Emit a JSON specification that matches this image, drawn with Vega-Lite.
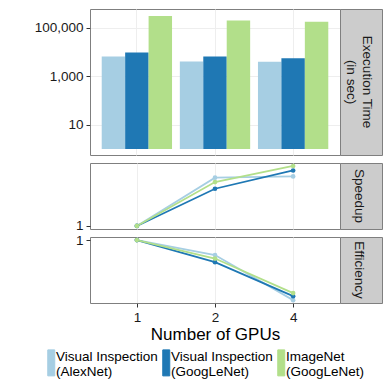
{
  "$schema": "https://vega.github.io/schema/vega-lite/v6.json",
  "padding": {"top": 8, "left": 33, "right": 5, "bottom": 5},
  "background": "white",
  "config": {
    "font": "Liberation Sans",
    "view": {"stroke": "#7f7f7f", "strokeWidth": 1},
    "axis": {"domain": false, "tickColor": "#333333", "tickSize": 4, "labelFontSize": 13.5, "labelColor": "#1a1a1a", "labelPadding": 3, "gridColor": "#eeeeee", "titleFontWeight": "normal", "titleColor": "#000000", "titleFont": "Liberation Sans", "labelFont": "Liberation Sans"},
    "axisY": {"minExtent": 56, "maxExtent": 56},
    "legend": {"labelFont": "Liberation Sans"}
  },
  "datasets": {
    "perf": [
      {"gpus": 1, "series": "Visual Inspection (AlexNet)", "time": 6600, "speedup": 1, "efficiency": 1},
      {"gpus": 1, "series": "Visual Inspection (GoogLeNet)", "time": 9700, "speedup": 1, "efficiency": 1},
      {"gpus": 1, "series": "ImageNet (GoogLeNet)", "time": 313000, "speedup": 1, "efficiency": 1},
      {"gpus": 2, "series": "Visual Inspection (AlexNet)", "time": 4100, "speedup": 1.62, "efficiency": 0.80},
      {"gpus": 2, "series": "Visual Inspection (GoogLeNet)", "time": 6600, "speedup": 1.45, "efficiency": 0.72},
      {"gpus": 2, "series": "ImageNet (GoogLeNet)", "time": 205000, "speedup": 1.55, "efficiency": 0.76},
      {"gpus": 4, "series": "Visual Inspection (AlexNet)", "time": 4050, "speedup": 1.64, "efficiency": 0.41},
      {"gpus": 4, "series": "Visual Inspection (GoogLeNet)", "time": 5600, "speedup": 1.74, "efficiency": 0.435},
      {"gpus": 4, "series": "ImageNet (GoogLeNet)", "time": 180000, "speedup": 1.82, "efficiency": 0.455}
    ]
  },
  "columns": 2,
  "align": "each",
  "bounds": "flush",
  "spacing": {"row": 8, "column": 0},
  "resolve": {"scale": {"x": "independent", "y": "independent"}},
  "concat": [
    {
      "width": 250, "height": 146,
      "data": {"name": "perf"},
      "mark": {"type": "bar"},
      "encoding": {
        "x": {"field": "gpus", "type": "ordinal", "scale": {"type": "band", "paddingInner": 0.1, "paddingOuter": 0.15}, "axis": {"labels": false, "ticks": false, "title": null, "grid": true, "bandPosition": 0.5}},
        "xOffset": {"field": "series", "type": "nominal", "sort": ["Visual Inspection (AlexNet)", "Visual Inspection (GoogLeNet)", "ImageNet (GoogLeNet)"], "scale": {"paddingInner": 0, "paddingOuter": 0}},
        "y": {"field": "time", "type": "quantitative", "scale": {"type": "log", "domain": [0.56, 610000], "nice": false}, "axis": {"values": [10, 1000, 100000], "format": ",", "title": null, "grid": true}},
        "y2": {"datum": 1},
        "color": {
          "field": "series", "type": "nominal",
          "scale": {"domain": ["Visual Inspection (AlexNet)", "Visual Inspection (GoogLeNet)", "ImageNet (GoogLeNet)"], "range": ["#a6cee3", "#1f78b4", "#b2df8a"]},
          "legend": {
            "orient": "none", "legendX": -45.5, "legendY": 347, "direction": "horizontal", "columns": 3, "title": null,
            "labelFontSize": 13.5, "labelColor": "#000000", "symbolType": "M-0.7,-2.6H0.7V2.6H-0.7Z", "symbolSize": 100,
            "labelOffset": -2, "columnPadding": 1, "symbolStrokeColor": "#cccccc", "symbolStrokeWidth": 1, "labelLimit": 220,
            "labelExpr": "[slice(datum.label, 0, indexof(datum.label, ' (')), slice(datum.label, indexof(datum.label, ' (') + 1)]",
            "encode": {"labels": {"update": {"dy": {"value": -6}}}}
          }
        }
      }
    },
    {
      "width": 42, "height": 146,
      "view": {"fill": "#cccccc", "stroke": "#7f7f7f"},
      "layer": [
        {
          "data": {"values": [{"t": "Execution Time"}]},
          "mark": {"type": "text", "angle": 90, "fontSize": 13.5, "color": "#1a1a1a", "align": "center", "baseline": "middle", "dy": -6},
          "encoding": {"text": {"field": "t"}}
        },
        {
          "data": {"values": [{"t": "(in sec)"}]},
          "mark": {"type": "text", "angle": 90, "fontSize": 13.5, "color": "#1a1a1a", "align": "center", "baseline": "middle", "dy": 10.5},
          "encoding": {"text": {"field": "t"}}
        }
      ]
    },
    {
      "width": 250, "height": 66,
      "data": {"name": "perf"},
      "mark": {"type": "line", "strokeWidth": 1.8, "point": {"filled": true, "size": 22}},
      "encoding": {
        "x": {"field": "gpus", "type": "ordinal", "scale": {"type": "point", "padding": 0.6}, "axis": {"labels": false, "ticks": false, "title": null, "grid": true}},
        "y": {"field": "speedup", "type": "quantitative", "scale": {"type": "log", "domain": [0.97, 1.875], "nice": false}, "axis": {"values": [1], "title": null, "grid": false}},
        "color": {"field": "series", "type": "nominal", "legend": null}
      }
    },
    {
      "width": 42, "height": 66,
      "view": {"fill": "#cccccc", "stroke": "#7f7f7f"},
      "data": {"values": [{"t": "Speedup"}]},
      "mark": {"type": "text", "angle": 90, "fontSize": 13.5, "color": "#1a1a1a", "align": "center", "baseline": "middle", "dy": 2},
      "encoding": {"text": {"field": "t"}}
    },
    {
      "width": 250, "height": 66,
      "data": {"name": "perf"},
      "mark": {"type": "line", "strokeWidth": 1.8, "point": {"filled": true, "size": 22}},
      "encoding": {
        "x": {"field": "gpus", "type": "ordinal", "scale": {"type": "point", "padding": 0.6}, "axis": {"title": "Number of GPUs", "titleFontSize": 17, "titlePadding": 3, "labelAngle": 0, "grid": true}},
        "y": {"field": "efficiency", "type": "quantitative", "scale": {"type": "log", "domain": [0.393, 1.046], "nice": false}, "axis": {"values": [1], "title": null, "grid": false}},
        "color": {"field": "series", "type": "nominal", "legend": null}
      }
    },
    {
      "width": 42, "height": 66,
      "view": {"fill": "#cccccc", "stroke": "#7f7f7f"},
      "data": {"values": [{"t": "Efficiency"}]},
      "mark": {"type": "text", "angle": 90, "fontSize": 13.5, "color": "#1a1a1a", "align": "center", "baseline": "middle", "dy": 2},
      "encoding": {"text": {"field": "t"}}
    }
  ]
}
